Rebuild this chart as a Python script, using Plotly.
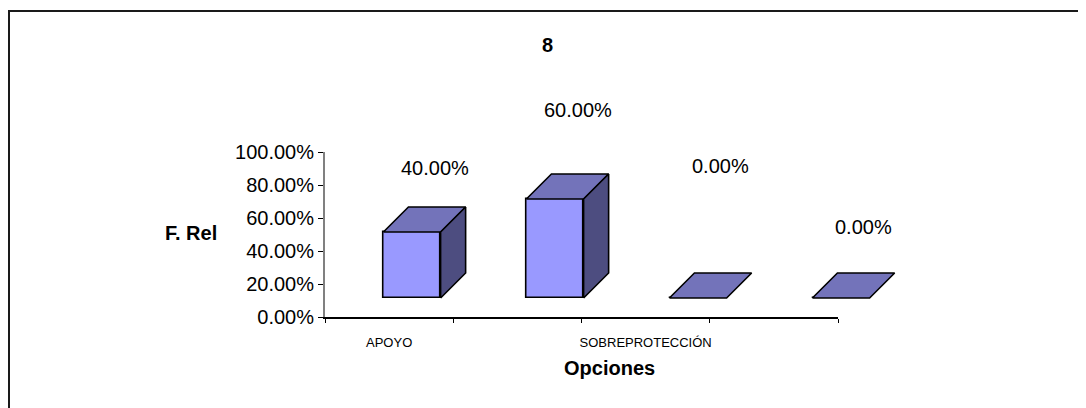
import plotly.graph_objects as go

# ---------------- data ----------------
categories = ["APOYO", "", "SOBREPROTECCIÓN", ""]
values = [0.40, 0.60, 0.00, 0.00]
value_labels = ["40.00%", "60.00%", "0.00%", "0.00%"]
y_ticks = [0.0, 0.2, 0.4, 0.6, 0.8, 1.0]
y_tick_labels = ["0.00%", "20.00%", "40.00%", "60.00%", "80.00%", "100.00%"]
# vertical placement of the value labels as they appear in the reference (3D projection)
label_heights = [0.79, 1.14, 0.80, 0.43]

# ---------------- layout helpers ----------------
W, H = 1086, 408
L, R, T, B = 300, 150, 60, 60
PW, PH = W - L - R, H - T - B
OFF = 8  # page body margin
FONT = "Liberation Sans, Arial, sans-serif"


def fx(p):
    return (p - OFF - L) / PW


def fy(p):
    return (H - B - (p - OFF)) / PH


idx = list(range(len(categories)))
bw = 0.40      # front face width (bar-axis units)
ddx = 0.175    # 3D depth offset, x
ddy = 0.1515   # 3D depth offset, y
Y2_MIN, Y2_MAX = -0.115, 0.885

FRONT = "#9999FF"
TOP = "#7373BA"
SIDE = "#4D4D80"
EDGE = "#000000"

fig = go.Figure()

# front faces
fig.add_trace(go.Bar(
    x=idx, y=values, base=0, width=bw,
    xaxis="x2", yaxis="y2",
    marker=dict(color=FRONT, line=dict(color=EDGE, width=1.6)),
    hoverinfo="skip", showlegend=False,
))

# top faces
tx, ty = [], []
for i, v in zip(idx, values):
    tx += [i - bw / 2, i + bw / 2, i + bw / 2 + ddx, i - bw / 2 + ddx, i - bw / 2, None]
    ty += [v, v, v + ddy, v + ddy, v, None]
fig.add_trace(go.Scatter(
    x=tx, y=ty, xaxis="x2", yaxis="y2", mode="lines", fill="toself",
    fillcolor=TOP, line=dict(color=EDGE, width=1.6),
    hoverinfo="skip", showlegend=False,
))

# side faces
sx, sy = [], []
for i, v in zip(idx, values):
    if v <= 0:
        continue
    sx += [i + bw / 2, i + bw / 2 + ddx, i + bw / 2 + ddx, i + bw / 2, i + bw / 2, None]
    sy += [0, ddy, v + ddy, v, 0, None]
fig.add_trace(go.Scatter(
    x=sx, y=sy, xaxis="x2", yaxis="y2", mode="lines", fill="toself",
    fillcolor=SIDE, line=dict(color=EDGE, width=1.6),
    hoverinfo="skip", showlegend=False,
))

# invisible trace to establish the main axes
fig.add_trace(go.Scatter(x=[0], y=[0], mode="markers", marker=dict(opacity=0),
                         hoverinfo="skip", showlegend=False))

y_dom = [fy(317), fy(152)]


def y2_to_paper(v):
    return y_dom[0] + (v - Y2_MIN) / (Y2_MAX - Y2_MIN) * (y_dom[1] - y_dom[0])


annotations = []
for i, txt, h in zip(idx, value_labels, label_heights):
    annotations.append(dict(
        x=i + 0.16, y=y2_to_paper(h), xref="x2", yref="paper", text=txt, showarrow=False,
        font=dict(family=FONT, size=20, color="#000"), xanchor="center", yanchor="middle",
    ))
annotations.append(dict(x=fx(191), y=fy(233), xref="paper", yref="paper", text="<b>F. Rel</b>",
                        showarrow=False, font=dict(family=FONT, size=20, color="#000"),
                        xanchor="center", yanchor="middle"))
annotations.append(dict(x=fx(609), y=fy(368), xref="paper", yref="paper", text="<b>Opciones</b>",
                        showarrow=False, font=dict(family=FONT, size=20, color="#000"),
                        xanchor="center", yanchor="middle"))
annotations.append(dict(x=fx(547), y=fy(45), xref="paper", yref="paper", text="<b>8</b>",
                        showarrow=False, font=dict(family=FONT, size=20, color="#000"),
                        xanchor="center", yanchor="middle"))

fig.update_layout(
    width=W, height=H,
    margin=dict(l=L, r=R, t=T, b=B, autoexpand=False),
    paper_bgcolor="white", plot_bgcolor="rgba(0,0,0,0)",
    font=dict(family=FONT, color="#000"),
    xaxis=dict(
        domain=[fx(325), fx(838)], range=[-0.5, 3.5], anchor="y",
        tickmode="array", tickvals=idx, ticktext=categories, ticks="",
        tickfont=dict(family=FONT, size=13, color="#000"),
        ticklabelstandoff=13,
        showline=True, linecolor="#000", linewidth=1.5, showgrid=False, zeroline=False,
        minor=dict(tickmode="array", tickvals=[-0.5, 0.5, 1.5, 2.5, 3.5], ticks="outside",
                   ticklen=4, tickcolor="#000", tickwidth=1, showgrid=False),
        fixedrange=True,
    ),
    yaxis=dict(
        domain=y_dom, range=[0, 1], anchor="x",
        tickmode="array", tickvals=y_ticks, ticktext=y_tick_labels,
        ticks="outside", ticklen=5, tickcolor="#000", tickwidth=1,
        tickfont=dict(family=FONT, size=20, color="#000"),
        showline=True, linecolor="#808080", linewidth=2, showgrid=False, zeroline=False,
        fixedrange=True,
    ),
    xaxis2=dict(domain=[fx(340.5), fx(912.5)], range=[-0.5, 3.5], anchor="y2",
                visible=False, fixedrange=True),
    yaxis2=dict(domain=y_dom, range=[Y2_MIN, Y2_MAX], anchor="x2",
                visible=False, fixedrange=True),
    annotations=annotations,
    shapes=[dict(type="rect", xref="paper", yref="paper",
                 x0=fx(9), x1=fx(1100), y0=fy(420), y1=fy(11),
                 line=dict(color="#1a1a1a", width=2), fillcolor="rgba(0,0,0,0)", layer="above")],
    bargap=0,
)

fig.write_html("out.html")
